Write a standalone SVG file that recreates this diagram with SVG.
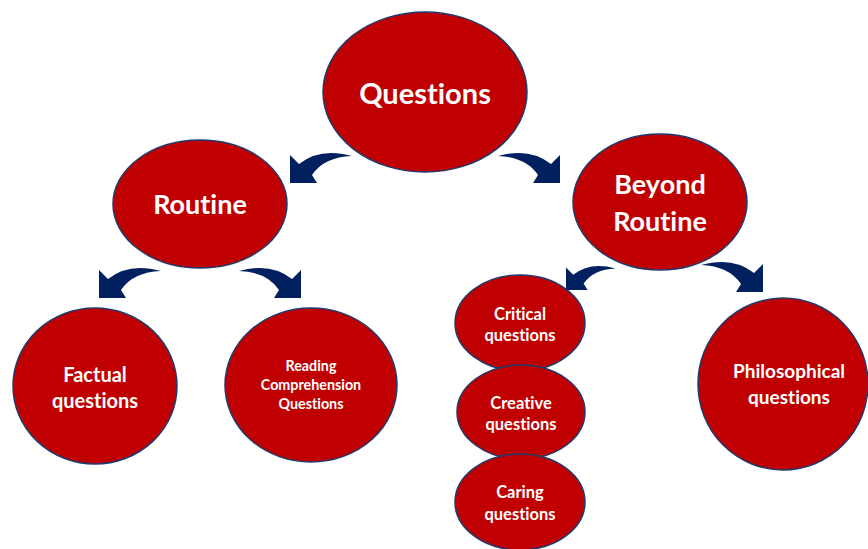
<svg xmlns="http://www.w3.org/2000/svg" width="868" height="549" viewBox="0 0 868 549">
<defs>
<style>
.node{fill:#C00000;stroke:#1F3A6E;stroke-width:1.5}
.t{fill:#fff;font-family:Lato,"Open Sans",sans-serif;font-weight:bold;text-anchor:middle;font-variant-ligatures:none;font-feature-settings:"liga" 0}
.arr{fill:#002060}
</style>
<path id="la" d="M 0 -28 L 9 -19 Q 30 -36 62 -27 Q 34 -26 22 -8 L 27 0 L 0 0 Z"/>
</defs>
<rect width="868" height="549" fill="#fff"/>
<g id="connectors" class="arr">
<use href="#la" transform="translate(290,183)"/>
<use href="#la" transform="translate(560,183) scale(-1,1)"/>
<use href="#la" transform="translate(99,298)"/>
<use href="#la" transform="translate(301,298) scale(-1,1)"/>
<use href="#la" transform="translate(566,290) scale(0.8)"/>
<use href="#la" transform="translate(763,292) scale(-1,1)"/>
</g>
<g id="questions">
<ellipse class="node" cx="425" cy="92" rx="102" ry="80"/>
<text class="t" x="425" y="104" font-size="29">Questions</text>
</g>
<g id="routine">
<ellipse class="node" cx="200" cy="204" rx="87" ry="64"/>
<text class="t" x="200" y="214" font-size="27">Routine</text>
</g>
<g id="beyond">
<ellipse class="node" cx="660" cy="202" rx="87" ry="68"/>
<text class="t" x="660" y="194" font-size="27">Beyond</text>
<text class="t" x="660" y="231" font-size="27">Routine</text>
</g>
<g id="factual">
<ellipse class="node" cx="95" cy="386" rx="82" ry="78"/>
<text class="t" x="95" y="382" font-size="20">Factual</text>
<text class="t" x="95" y="408" font-size="20">questions</text>
</g>
<g id="reading">
<ellipse class="node" cx="311" cy="385" rx="86" ry="77"/>
<text class="t" x="311" y="371" font-size="14.3">Reading</text>
<text class="t" x="311" y="390" font-size="14.3">Comprehension</text>
<text class="t" x="311" y="409" font-size="14.3">Questions</text>
</g>
<g id="critical">
<ellipse class="node" cx="520" cy="323" rx="65" ry="48"/>
<text class="t" x="520" y="320" font-size="16.5">Critical</text>
<text class="t" x="520" y="341" font-size="16.5">questions</text>
</g>
<g id="creative">
<ellipse class="node" cx="521" cy="412" rx="64" ry="47"/>
<text class="t" x="521" y="409" font-size="16.5">Creative</text>
<text class="t" x="521" y="430" font-size="16.5">questions</text>
</g>
<g id="caring">
<ellipse class="node" cx="520" cy="502" rx="65" ry="48"/>
<text class="t" x="520" y="498" font-size="16.5">Caring</text>
<text class="t" x="520" y="520" font-size="16.5">questions</text>
</g>
<g id="philosophical">
<ellipse class="node" cx="783" cy="384" rx="85" ry="86"/>
<text class="t" x="789" y="378" font-size="19">Philosophical</text>
<text class="t" x="789" y="404" font-size="19">questions</text>
</g>
</svg>
